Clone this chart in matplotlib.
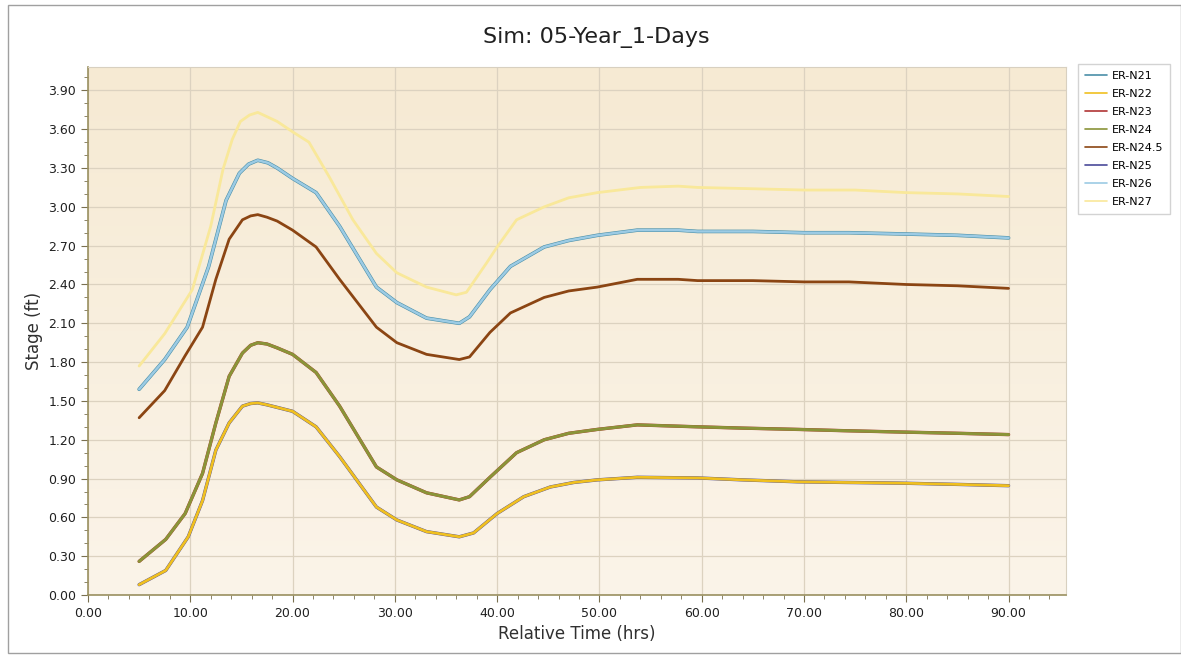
import matplotlib
matplotlib.use("Agg")
import matplotlib.pyplot as plt
import numpy as np
from matplotlib.ticker import MultipleLocator, FormatStrFormatter
from matplotlib.patches import Rectangle

# time (hrs) and stage (ft)
t_top = [5, 7.5, 10.2, 12.0, 13.2, 14.1, 14.9, 15.8, 16.6, 18.5, 20.0, 21.6, 23.6, 25.9, 28.2, 30.2, 33.1,
         36.0, 37.0, 39.0, 40.0, 41.9, 44.6, 47.0, 49.8, 54.0, 57.7, 59.6, 65.0, 70.0, 75.0, 80.0, 85.0, 90.0]
n27 = [1.77, 2.02, 2.36, 2.85, 3.29, 3.52, 3.66, 3.71, 3.73, 3.66, 3.58, 3.50, 3.23, 2.90, 2.64, 2.49, 2.38,
       2.32, 2.34, 2.57, 2.69, 2.90, 3.00, 3.07, 3.11, 3.15, 3.16, 3.15, 3.14, 3.13, 3.13, 3.11, 3.10, 3.08]

t_mid = [5, 7.5, 9.7, 11.8, 13.5, 14.8, 15.7, 16.6, 17.6, 18.5, 20.0, 22.3, 24.6, 28.2, 30.2, 33.1, 36.3, 37.3,
         39.3, 41.3, 44.6, 47.0, 49.8, 53.7, 57.7, 59.6, 65.0, 70.0, 74.4, 80.0, 85.0, 90.0]
n21 = [1.59, 1.82, 2.07, 2.54, 3.05, 3.26, 3.33, 3.36, 3.34, 3.30, 3.22, 3.11, 2.85, 2.38, 2.26, 2.14, 2.10, 2.15,
       2.36, 2.54, 2.69, 2.74, 2.78, 2.82, 2.82, 2.81, 2.81, 2.80, 2.80, 2.79, 2.78, 2.76]
n26 = n21

t_brn = [5, 7.5, 9.5, 11.2, 12.5, 13.8, 15.1, 15.9, 16.6, 17.5, 18.5, 20.0, 22.3, 24.6, 28.2, 30.2, 33.1, 36.3,
         37.3, 39.3, 41.3, 44.6, 47.0, 49.8, 53.7, 57.7, 59.6, 65.0, 70.0, 74.4, 80.0, 85.0, 90.0]
n245 = [1.37, 1.58, 1.85, 2.07, 2.44, 2.75, 2.90, 2.93, 2.94, 2.92, 2.89, 2.82, 2.69, 2.44, 2.07, 1.95, 1.86, 1.82,
        1.84, 2.03, 2.18, 2.30, 2.35, 2.38, 2.44, 2.44, 2.43, 2.43, 2.42, 2.42, 2.40, 2.39, 2.37]

t_low = [5, 7.6, 9.5, 11.2, 12.5, 13.8, 15.1, 15.9, 16.6, 17.5, 18.5, 20.0, 22.3, 24.6, 28.2, 30.2, 33.1, 36.3,
         37.3, 39.3, 41.9, 44.6, 47.0, 49.8, 53.7, 59.6, 64.0, 69.4, 74.0, 79.3, 85.0, 90.0]
n24 = [0.26, 0.43, 0.63, 0.94, 1.33, 1.69, 1.87, 1.93, 1.95, 1.94, 1.91, 1.86, 1.72, 1.46, 0.99, 0.89, 0.79, 0.735,
       0.76, 0.91, 1.10, 1.20, 1.25, 1.28, 1.315, 1.30, 1.29, 1.28, 1.27, 1.26, 1.25, 1.24]
n23 = n24

t_bot = [5, 7.6, 9.8, 11.2, 12.5, 13.8, 15.1, 15.9, 16.6, 17.5, 18.5, 20.0, 22.3, 24.6, 28.2, 30.2, 33.1, 36.3,
         37.7, 40.0, 42.6, 45.2, 47.5, 49.8, 53.7, 59.6, 64.0, 69.4, 74.0, 79.3, 85.0, 90.0]
n22 = [0.08, 0.19, 0.45, 0.73, 1.12, 1.33, 1.46, 1.48, 1.485, 1.47, 1.45, 1.42, 1.30, 1.07, 0.68, 0.58, 0.49, 0.45,
       0.48, 0.63, 0.76, 0.835, 0.87, 0.89, 0.91, 0.905, 0.89, 0.875, 0.87, 0.865, 0.855, 0.845]
n25 = n22

names = ["ER-N21", "ER-N22", "ER-N23", "ER-N24", "ER-N24.5", "ER-N25", "ER-N26", "ER-N27"]
colors = ["#4a8fa8", "#f0c020", "#b03535", "#8a9438", "#8b4513", "#4a4a9a", "#9ccbe4", "#f9e89a"]

fig = plt.figure(figsize=(11.81, 6.58), dpi=100)
fig.patches.append(Rectangle((0.007, 0.008), 0.993, 0.985, transform=fig.transFigure,
                             fill=False, edgecolor="#a0a0a0", linewidth=1.0))
ax = fig.add_axes([0.0745, 0.0957, 0.828, 0.8023])

# cream gradient background
grad = np.linspace(0, 1, 256).reshape(256, 1)
ax.imshow(grad, extent=[0, 1, 0, 1], transform=ax.transAxes, aspect="auto",
          cmap=matplotlib.colors.LinearSegmentedColormap.from_list("bg", ["#f6ead3", "#fbf4e9"]),
          zorder=0)

kw = dict(solid_joinstyle="round", solid_capstyle="round")
ax.plot(t_mid, n21, color=colors[0], lw=2.6, label=names[0], zorder=3, **kw)
ax.plot(t_low, n23, color=colors[2], lw=2.4, label=names[2], zorder=3, **kw)
ax.plot(t_low, n24, color=colors[3], lw=2.2, label=names[3], zorder=4, **kw)
ax.plot(t_brn, n245, color=colors[4], lw=2.0, label=names[4], zorder=4, **kw)
ax.plot(t_bot, n25, color=colors[5], lw=2.4, label=names[5], zorder=3, **kw)
ax.plot(t_bot, n22, color=colors[1], lw=2.0, label=names[1], zorder=4, **kw)
ax.plot(t_mid, n26, color=colors[6], lw=1.8, label=names[6], zorder=4, **kw)
ax.plot(t_top, n27, color=colors[7], lw=2.0, label=names[7], zorder=4, **kw)

ax.set_xlim(0, 95.6)
ax.set_ylim(0, 4.08)
ax.xaxis.set_major_locator(MultipleLocator(10))
ax.xaxis.set_minor_locator(MultipleLocator(2))
ax.yaxis.set_major_locator(MultipleLocator(0.3))
ax.yaxis.set_minor_locator(MultipleLocator(0.1))
ax.xaxis.set_major_formatter(FormatStrFormatter("%.2f"))
ax.yaxis.set_major_formatter(FormatStrFormatter("%.2f"))
ax.grid(True, which="major", color="#dcd2c0", lw=0.9)
ax.tick_params(which="major", length=5, color="#7a7050", labelsize=9, labelcolor="#202020")
ax.tick_params(which="minor", length=3, color="#7a7050")
for s in ["left", "bottom"]:
    ax.spines[s].set_color("#9a9060")
    ax.spines[s].set_linewidth(1.2)
for s in ["top", "right"]:
    ax.spines[s].set_color("#d8d0c0")

ax.set_xlabel("Relative Time (hrs)", fontsize=12, color="#303030")
ax.set_ylabel("Stage (ft)", fontsize=12, color="#303030")
fig.text(0.505, 0.943, "Sim: 05-Year_1-Days", ha="center", va="center", fontsize=16, color="#202020")

h, l = ax.get_legend_handles_labels()
hd = {lab: hh for hh, lab in zip(h, l)}
leg = fig.legend([hd[n] for n in names], names, loc="upper left", bbox_to_anchor=(0.913, 0.902),
                 fontsize=8, frameon=True, fancybox=False, edgecolor="#c8c8c8",
                 handlelength=2.0, handletextpad=0.4, labelspacing=0.72, borderpad=0.6,
                 borderaxespad=0.0)
for ln in leg.get_lines():
    ln.set_linewidth(1.2)

fig.savefig("out.png", dpi=100)
